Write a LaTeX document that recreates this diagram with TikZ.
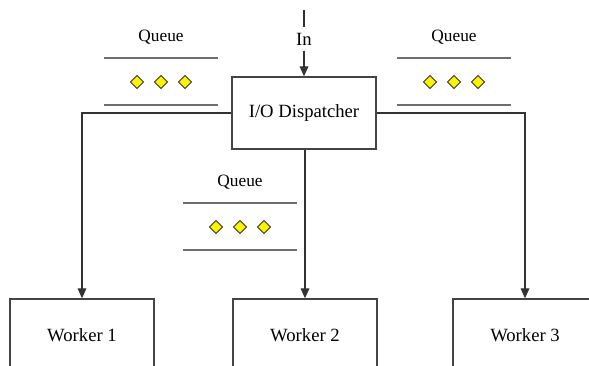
\documentclass[tikz,border=0pt]{standalone}
\usepackage{fontspec}
\setmainfont{Liberation Serif}
\usetikzlibrary{arrows.meta,shapes.geometric}
\definecolor{edgegray}{HTML}{333333}
\definecolor{boxgray}{HTML}{444444}
\definecolor{qgray}{HTML}{6E6E6E}
\begin{document}
\begin{tikzpicture}[x=0.75pt,y=-0.75pt,
  every node/.style={font=\fontsize{14}{16}\selectfont},
  unit/.style={draw=boxgray,line width=1pt,minimum width=108pt,minimum height=54pt,inner sep=0pt,fill=white},
  conn/.style={draw=edgegray,line width=0.9pt},
  arr/.style={conn,-{Triangle[length=7.5pt,width=6.5pt]}},
  qline/.style={draw=qgray,line width=1.2pt},
  token/.style={diamond,draw=black!80,fill=yellow,line width=0.6pt,minimum size=10pt,inner sep=0pt},
  qlabel/.style={font=\fontsize{13}{15}\selectfont}]
\path[use as bounding box] (0,0) rectangle (589,365);
\clip (0,0) rectangle (589,365);

% dispatcher and workers
\node[unit] (disp) at (304,113) {I/O Dispatcher};
\node[unit] (w1) at (82,335) {Worker 1};
\node[unit] (w2) at (305,335) {Worker 2};
\node[unit] (w3) at (525,335) {Worker 3};

% incoming requests
\coordinate (src) at (304,10);
\node[fill=white,inner xsep=1pt,inner ysep=0pt,minimum height=17pt] (inlbl) at (304,39) {In};
\draw[conn] (src) -- (inlbl.north);
\draw[arr] (inlbl.south) -- (disp.north);

% fan-out to workers
\coordinate (lt) at (82,113);
\coordinate (rt) at (525,113);
\draw[arr] (disp.west |- lt) -- (lt) -- (w1.north);
\draw[arr] (disp.east |- rt) -- (rt) -- (w3.north);
\draw[arr] (disp.south -| w2.north) -- (w2.north);

% queues
\foreach \qx/\qy/\qn in {161/58/ql, 454/58/qr, 240/203/qm}{
  \node[qlabel] (\qn lbl) at (\qx,\qy-21) {Queue};
  \coordinate (\qn a) at (\qx-57,\qy);
  \coordinate (\qn b) at (\qx+57,\qy);
  \coordinate (\qn c) at (\qx-57,\qy+47);
  \coordinate (\qn d) at (\qx+57,\qy+47);
  \draw[qline] (\qn a) -- (\qn b);
  \draw[qline] (\qn c) -- (\qn d);
  \node[token] (\qn t1) at (\qx-24,\qy+24) {};
  \node[token] (\qn t2) at (\qx,\qy+24) {};
  \node[token] (\qn t3) at (\qx+24,\qy+24) {};
}
\end{tikzpicture}
\end{document}
